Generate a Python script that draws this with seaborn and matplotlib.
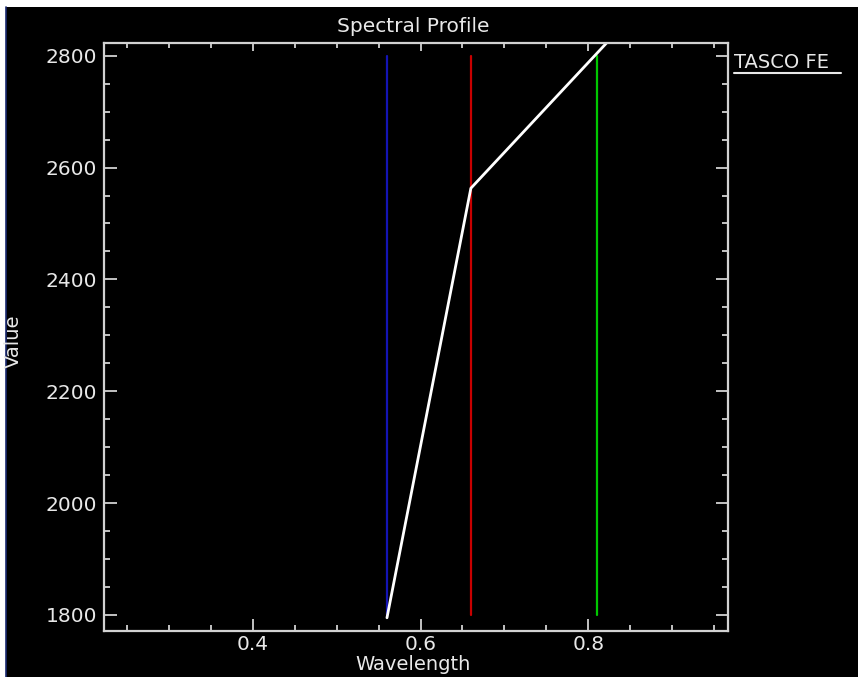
import matplotlib
matplotlib.use("Agg")
import matplotlib.pyplot as plt
import seaborn as sns
import pandas as pd
import numpy as np
from matplotlib.ticker import MultipleLocator
from matplotlib.lines import Line2D
from matplotlib.patches import Rectangle

# ---- data ----
profile_wavelength = [0.56, 0.66, 0.83]
profile_value = [1795, 2563, 2836]
band_wavelength = [0.56, 0.66, 0.81]
band_colors = ["#1414b4", "#c80000", "#00c800"]
band_ymin = 1800
band_ymax = 2800
series_name = "TASCO FE"
x_major_ticks = [0.4, 0.6, 0.8]
y_major_ticks = [1800, 2000, 2200, 2400, 2600, 2800]

sns.set_theme(style="dark")
plt.rcParams['font.family'] = ['DejaVu Sans']

W, H = 858, 677
fig = plt.figure(figsize=(W / 100, H / 100), dpi=100, facecolor="black")

ax_l, ax_r, ax_t, ax_b = 104.3, 727.7, 42.7, 630.7
ax = fig.add_axes([ax_l / W, 1 - ax_b / H, (ax_r - ax_l) / W, (ax_b - ax_t) / H])
ax.set_facecolor("black")

fg = "#d2d2d2"
txt = "#e8e8e8"

# band marker lines
for wl, col in zip(band_wavelength, band_colors):
    bdf = pd.DataFrame({"x": [wl, wl], "y": [band_ymin, band_ymax]})
    sns.lineplot(data=bdf, x="x", y="y", ax=ax, color=col, lw=1.6,
                 sort=False, estimator=None)

# profile line
pdf = pd.DataFrame({"Wavelength": profile_wavelength, "Value": profile_value})
sns.lineplot(data=pdf, x="Wavelength", y="Value", ax=ax, color="white",
             lw=2.0, sort=False, estimator=None)

ax.set_xlim(0.2231, 0.9661)
ax.set_ylim(1771.9, 2823.2)

ax.xaxis.set_major_locator(matplotlib.ticker.FixedLocator(x_major_ticks))
ax.xaxis.set_minor_locator(MultipleLocator(0.05))
ax.yaxis.set_major_locator(matplotlib.ticker.FixedLocator(y_major_ticks))
ax.yaxis.set_minor_locator(MultipleLocator(50))
ax.set_xticklabels([f"{v:.1f}" for v in x_major_ticks])
ax.set_yticklabels([str(v) for v in y_major_ticks])

ax.tick_params(axis="both", which="major", direction="in", length=9, width=1.3,
               color=fg, labelcolor=txt, labelsize=14.5, pad=5)
ax.tick_params(axis="x", which="major", pad=3)
ax.tick_params(axis="both", which="minor", direction="in", length=4.5, width=1.3,
               color=fg)
ax.tick_params(axis="y", which="both", left=True, right=True)
ax.tick_params(axis="x", which="both", bottom=True, top=False)
ax.grid(False)
for sp in ax.spines.values():
    sp.set_visible(True)
    sp.set_color(fg)
    sp.set_linewidth(1.6)

# top ticks (shorter)
sec = ax.secondary_xaxis("top")
sec.xaxis.set_major_locator(matplotlib.ticker.FixedLocator(x_major_ticks))
sec.xaxis.set_minor_locator(MultipleLocator(0.05))
sec.tick_params(axis="x", which="major", direction="in", length=5.5, width=1.3,
                color=fg, labeltop=False)
sec.tick_params(axis="x", which="minor", direction="in", length=3.5, width=1.3,
                color=fg)
sec.spines["top"].set_visible(False)

ax.set_xlabel("")
ax.set_ylabel("")

# labels and title
fig.text(413 / W, 1 - 27 / H, "Spectral Profile", color=txt, fontsize=14.5,
         ha="center", va="center")
fig.text(413 / W, 1 - 664 / H, "Wavelength", color=txt, fontsize=14,
         ha="center", va="center")
fig.text(13 / W, 1 - 341 / H, "Value", color=txt, fontsize=14,
         ha="center", va="center", rotation=90)

# legend entry
fig.text(734 / W, 1 - 62 / H, series_name, color=txt, fontsize=14,
         ha="left", va="center")
fig.add_artist(Line2D([734 / W, 841 / W], [1 - 73 / H, 1 - 73 / H],
                      color=txt, lw=1.5, transform=fig.transFigure))

# screenshot border
fig.add_artist(Rectangle((0, 1 - 6.5 / H), 1, 6.5 / H, transform=fig.transFigure,
                         color="white", lw=0))
fig.add_artist(Rectangle((0, 0), 5.5 / W, 1, transform=fig.transFigure,
                         color="white", lw=0))
fig.add_artist(Line2D([6.3 / W, 6.3 / W], [0, 1 - 6.5 / H], color="#1a2a70",
                      lw=1.2, transform=fig.transFigure))

fig.savefig("out.png", dpi=100, facecolor="black")
